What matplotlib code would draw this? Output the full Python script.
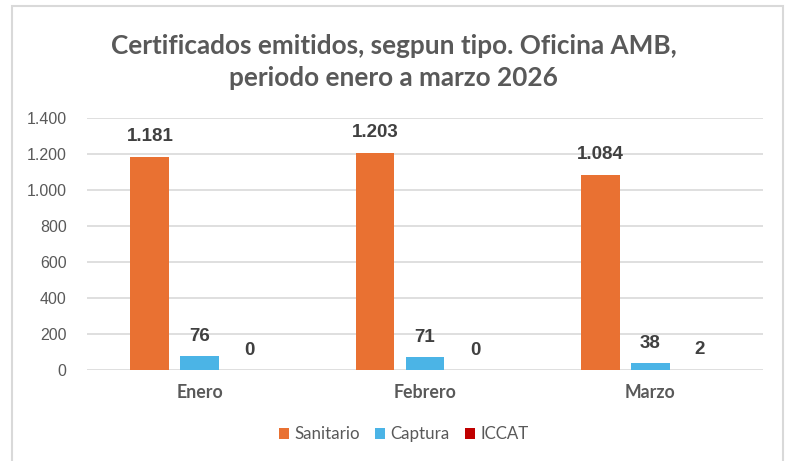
import numpy as np
import matplotlib
matplotlib.use('Agg')
import matplotlib.pyplot as plt
from matplotlib.patches import Rectangle


TITLE = 'Certificados emitidos, segpun tipo. Oficina AMB,\nperiodo enero a marzo 2026'
MONTHS = ['Enero', 'Febrero', 'Marzo']
SERIES_NAMES = ['Sanitario', 'Captura', 'ICCAT']
SANITARIO = [1181, 1203, 1084]
CAPTURA = [76, 71, 38]
ICCAT = [0, 0, 2]
Y_TICKS = [0, 200, 400, 600, 800, 1000, 1200, 1400]

COLORS = ['#E97132', '#4BB4E6', '#C00000']
TEXT_GRAY = '#595959'
LABEL_DARK = '#404040'
GRID = '#D9D9D9'


def fmt_es(value):
    # thousands separator as a dot, like the Spanish Excel export
    return f'{value:,.0f}'.replace(',', '.')


fig = plt.figure(figsize=(7.87, 4.61), dpi=100)
ax = fig.add_axes([0.111, 0.197, 0.858, 0.548])

# light frame around the whole chart
fig.patches.append(Rectangle((12 / 787, -0.01), 771 / 787, 1 - 6 / 461 + 0.01,
                             transform=fig.transFigure, fill=False,
                             edgecolor='#D9D9D9', linewidth=1.5))

x = np.arange(len(MONTHS))
bar_width = 0.173
offsets = [-0.222, 0.0, 0.222]
all_values = [SANITARIO, CAPTURA, ICCAT]

for name, values, offset, color in zip(SERIES_NAMES, all_values, offsets, COLORS):
    bars = ax.bar(x + offset, values, width=bar_width, color=color, label=name, zorder=3)
    for bar, value in zip(bars, values):
        ax.annotate(fmt_es(value),
                    (bar.get_x() + bar.get_width() / 2, bar.get_height()),
                    xytext=(0, 14.5), textcoords='offset points',
                    ha='center', va='center', fontsize=13.5, fontweight='bold',
                    color=LABEL_DARK, family='Liberation Sans')

ax.set_xlim(-0.5, 2.5)
ax.set_ylim(0, 1400)
ax.set_yticks(Y_TICKS)
ax.set_yticklabels([fmt_es(v) for v in Y_TICKS], family='Liberation Sans',
                   fontsize=11.5, color=TEXT_GRAY)
ax.set_xticks(x)
ax.set_xticklabels(MONTHS, family='Lato', fontweight='bold', fontsize=12.8, color=TEXT_GRAY)
ax.tick_params(axis='both', length=0)
ax.tick_params(axis='x', pad=10)
ax.tick_params(axis='y', pad=15)
ax.grid(axis='y', color=GRID, linewidth=1.2, zorder=0)
for spine in ax.spines.values():
    spine.set_visible(False)

fig.text(0.5, 0.866, TITLE, ha='center', va='center', fontsize=18.8, fontweight='bold',
         color=TEXT_GRAY, family='Lato', linespacing=1.4)

fig.legend(loc='center', bbox_to_anchor=(0.513, 0.058), ncol=3, frameon=False,
           prop={'family': 'Lato', 'size': 12.2}, labelcolor=TEXT_GRAY,
           handlelength=0.6, handleheight=0.6, handletextpad=0.3, columnspacing=0.9)

fig.savefig('out.png', dpi=100)
